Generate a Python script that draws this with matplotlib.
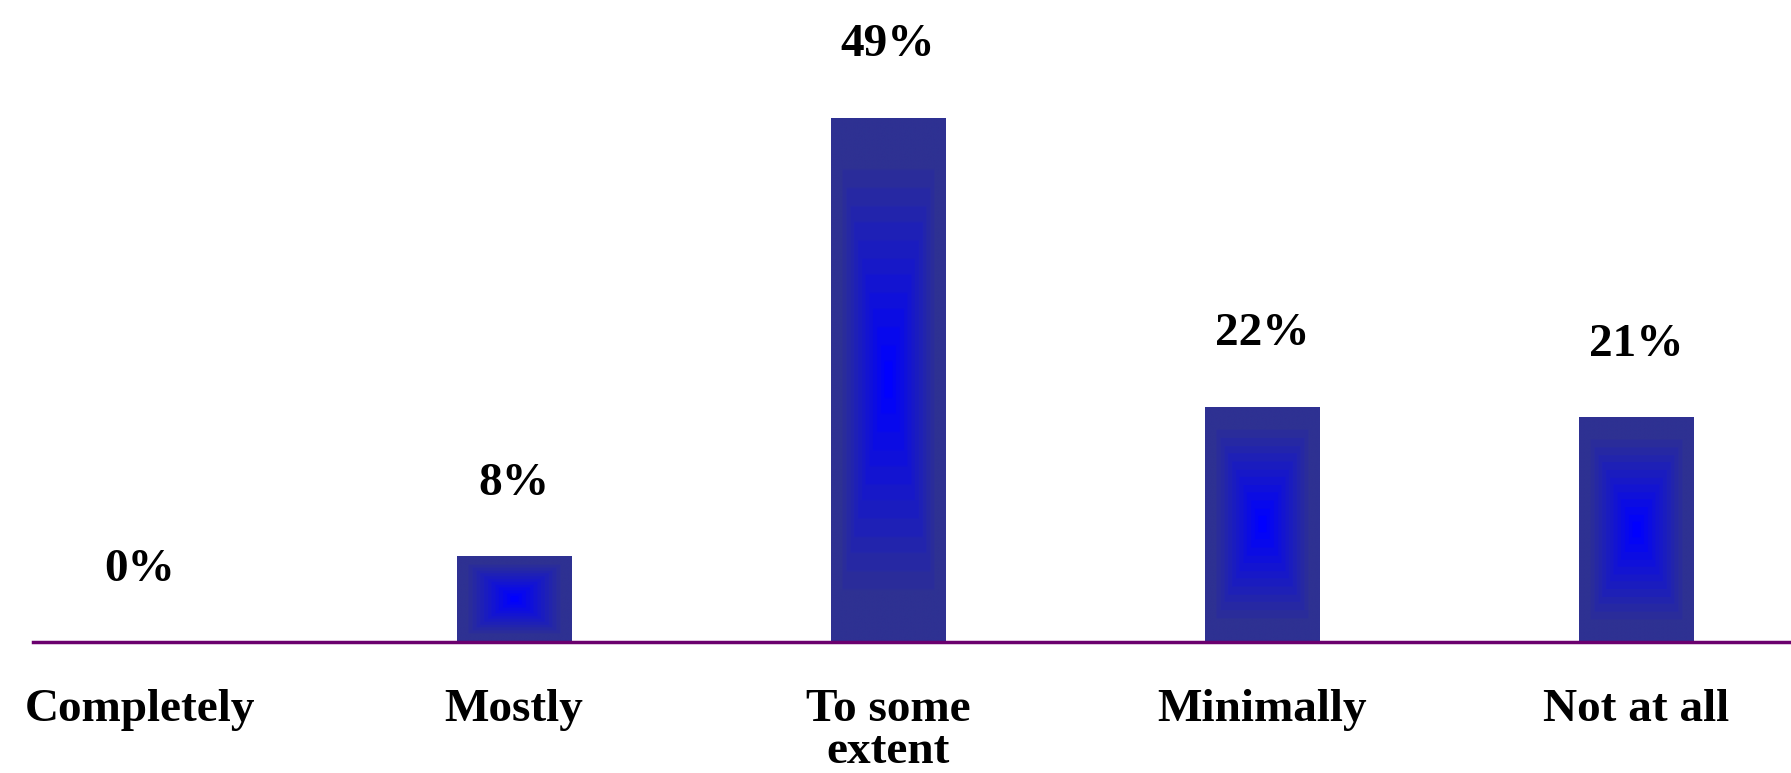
import numpy as np
import matplotlib.pyplot as plt
from matplotlib.colors import LinearSegmentedColormap

categories = ["Completely", "Mostly", "To some\nextent", "Minimally", "Not at all"]
values = [0, 8, 49, 22, 21]

plt.rcParams['font.family'] = ['Liberation Serif', 'DejaVu Serif']

fig = plt.figure(figsize=(17.91, 7.73), dpi=100)
ax = fig.add_axes([33 / 1791, 131 / 773, 1 - 33 / 1791, 642 / 773])

x = np.arange(len(categories))
bar_w = 0.307

ax.set_xlim(-0.286, 4.414)
ax.set_ylim(0, 60)

# box gradient: bright blue centre fading to dark navy at the edges, in bands
cmap = LinearSegmentedColormap.from_list("boxgrad", ["#0000FF", "#2E3192"])
n = 200
u = np.linspace(-1, 1, n)
uu, vv = np.meshgrid(u, u)
d = np.maximum(np.abs(uu), np.abs(vv))
d = np.clip(d / 0.8, 0, 1)
d = np.floor(d * 12) / 12

bars = ax.bar(x, values, width=bar_w, color="none", edgecolor="none")
for rect, v in zip(bars, values):
    if v <= 0:
        continue
    x0 = rect.get_x()
    im = ax.imshow(d, cmap=cmap, vmin=0, vmax=1, aspect="auto",
                   extent=(x0, x0 + rect.get_width(), 0, v),
                   interpolation="bilinear", zorder=2)
    im.set_clip_path(rect)

for xi, v in zip(x, values):
    ax.annotate(f"{v}%", (xi, v), xytext=(0, 52), textcoords="offset points",
                ha="center", va="center", fontsize=34, fontweight="bold")

for side in ["top", "left", "right"]:
    ax.spines[side].set_visible(False)
ax.spines["bottom"].set_color("#6B006E")
ax.spines["bottom"].set_linewidth(2.5)
ax.spines["bottom"].set_zorder(3)

ax.set_yticks([])
ax.set_xticks(x)
ax.set_xticklabels(categories, fontsize=34, fontweight="bold", linespacing=1.0)
ax.tick_params(axis="x", length=0, pad=34)

fig.savefig("out.png", dpi=100)
